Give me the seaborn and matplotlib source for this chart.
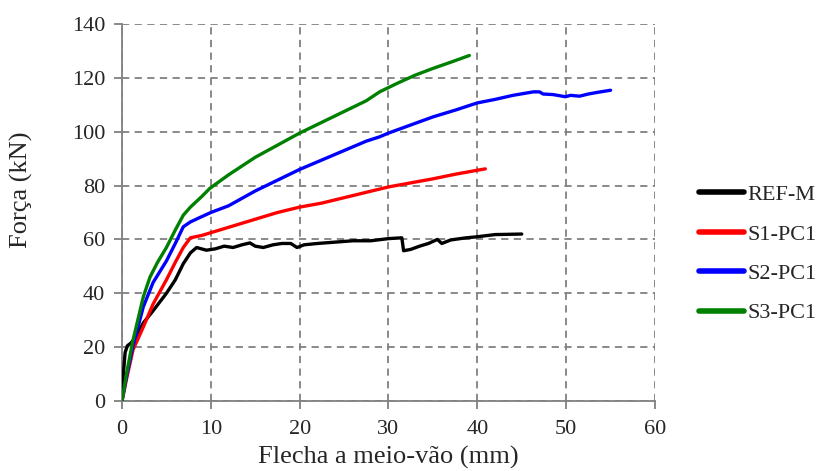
import matplotlib
matplotlib.use("Agg")
import matplotlib.pyplot as plt
import seaborn as sns
import pandas as pd

# Data
ref_x = [0, 0.15, 0.35, 0.6, 1.0, 1.6, 2.4, 3.5, 5.0, 6.0, 6.9, 7.7, 8.4, 9.5, 10.5, 11.5, 12.5, 13.5, 14.4, 15.0, 15.9, 17.0, 18.0, 19.0, 19.7, 20.5, 22.0, 24.0, 26.0, 28.0, 30.0, 31.5, 31.7, 32.5, 33.5, 34.5, 35.5, 36.0, 37.0, 38.5, 40.0, 42.0, 45.0]
ref_y = [0, 10, 18, 20.5, 21.5, 24, 29, 33.5, 40, 45, 51, 55, 57, 56, 56.5, 57.5, 57, 58, 58.7, 57.5, 57, 58, 58.5, 58.5, 57, 58, 58.5, 59, 59.5, 59.5, 60.3, 60.6, 55.8, 56.3, 57.5, 58.5, 60, 58.5, 59.8, 60.5, 61, 61.8, 62]

s1_x = [0, 0.5, 1.24, 2.4, 3.5, 5.0, 6.0, 6.9, 7.7, 9.0, 10.0, 12.0, 15.0, 17.5, 20.0, 22.5, 25.0, 27.5, 30.0, 32.5, 35.0, 37.5, 40.0, 40.9]
s1_y = [0, 8, 19, 27.5, 36, 45, 51.5, 57, 60.6, 61.5, 62.5, 64.5, 67.5, 70, 72, 73.5, 75.5, 77.5, 79.5, 81, 82.5, 84.2, 85.7, 86.2]

s2_x = [0, 0.5, 1.2, 2.4, 3.5, 5.0, 6.0, 6.9, 7.7, 9.0, 10.0, 12.0, 15.0, 17.5, 20.0, 22.5, 25.0, 27.5, 29.0, 30.0, 32.5, 35.0, 37.5, 40.0, 42.0, 44.0, 46.3, 47.0, 47.4, 48.5, 49.9, 50.5, 51.5, 52.5, 53.5, 55.0]
s2_y = [0, 9, 20, 35, 44, 52, 58.5, 64.7, 66.5, 68.5, 70, 72.5, 78, 82, 86, 89.5, 93, 96.5, 98.1, 99.5, 102.5, 105.5, 108, 110.7, 112, 113.5, 114.8, 114.8, 114, 113.8, 113, 113.5, 113.2, 114, 114.6, 115.4]

s3_x = [0, 0.5, 1.2, 2.4, 3.15, 4.0, 5.0, 6.0, 6.9, 7.7, 9.0, 9.9, 12.0, 15.0, 17.5, 20.0, 22.5, 25.0, 27.5, 29.0, 31.0, 33.0, 35.0, 37.0, 39.1]
s3_y = [0, 10, 22, 38.7, 46, 51.5, 57, 63.5, 69, 72, 76, 79, 84, 90.5, 95, 99.5, 103.5, 107.5, 111.5, 114.8, 118, 121, 123.5, 125.8, 128.3]

series_names = ["REF-M", "S1-PC1", "S2-PC1", "S3-PC1"]
colors = ["#000000", "#ff0000", "#0000ff", "#008000"]

xs = [ref_x, s1_x, s2_x, s3_x]
ys = [ref_y, s1_y, s2_y, s3_y]
frames = []
for name, x, y in zip(series_names, xs, ys):
    frames.append(pd.DataFrame({"x": x, "y": y, "serie": name, "ord": range(len(x))}))
df = pd.concat(frames, ignore_index=True)

sns.set_style("white")
plt.rcParams["font.family"] = ["Liberation Serif", "DejaVu Serif"]

fig = plt.figure(figsize=(8.24, 4.71), dpi=100)
ax = fig.add_axes([122 / 824, (471 - 401) / 471, (655 - 122) / 824, (401 - 24) / 471])

sns.lineplot(data=df, x="x", y="y", hue="serie", hue_order=series_names,
             palette=colors, sort=False, estimator=None, linewidth=2.4, ax=ax, zorder=3)

ax.set_xlim(0, 60)
ax.set_ylim(0, 140)
ax.set_xticks(range(0, 61, 10))
ax.set_yticks(range(0, 141, 20))
ax.grid(True, color="#808080", linestyle=(0, (4, 3)), linewidth=1.3)
for s in ["top", "right"]:
    ax.spines[s].set_visible(False)
for s in ["left", "bottom"]:
    ax.spines[s].set_color("#808080")
    ax.spines[s].set_linewidth(1.3)
ax.tick_params(axis="both", direction="out", length=6, width=1.3, color="#808080",
               labelsize=16, left=True, bottom=True)
ax.tick_params(axis="x", pad=8)
ax.tick_params(axis="y", pad=6)
ax.set_xlabel("Flecha a meio-vão (mm)", fontsize=19, labelpad=5)
ax.set_ylabel("Força (kN)", fontsize=19)
ax.yaxis.set_label_coords(-0.167, 0.56)

leg = ax.legend(loc="center left", bbox_to_anchor=(1.083, 0.39), frameon=False,
                fontsize=16, handlelength=2.0, labelspacing=0.85, handletextpad=0.15,
                borderaxespad=0, borderpad=0)
for line in leg.get_lines():
    line.set_linewidth(4)

fig.savefig("out.png", dpi=100)
